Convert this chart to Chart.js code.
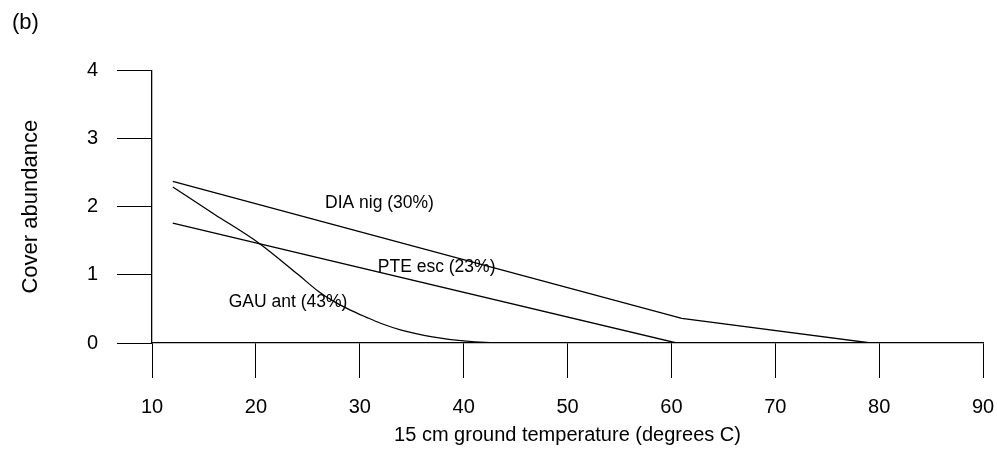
<!DOCTYPE html>
<html>
<head>
<meta charset="utf-8">
<script src="https://cdn.jsdelivr.net/npm/chart.js@4.4.1/dist/chart.umd.min.js"></script>
<style>
  html, body { margin: 0; padding: 0; background: #fff; }
  canvas { display: block; }
</style>
</head>
<body>
<canvas id="coverChart" width="997" height="449"></canvas>
<script>
// cover abundance response curves against 15 cm ground temperature
const xTicks = [10, 20, 30, 40, 50, 60, 70, 80, 90];
const yTicks = [0, 1, 2, 3, 4];

const diaTemp = [12, 61, 79.2, 90];
const diaCover = [2.37, 0.36, 0, 0];

const pteTemp = [12, 60.5, 90];
const pteCover = [1.76, 0, 0];

const gauTemp = [12, 16, 20.3, 24.1, 26, 27.5, 29, 30.6, 32, 34, 37, 40, 44, 90];
const gauCover = [2.29, 1.89, 1.465, 1.0, 0.76, 0.61, 0.49, 0.38, 0.29, 0.19, 0.09, 0.03, 0, 0];

const curveNames = ['DIA nig (30%)', 'PTE esc (23%)', 'GAU ant (43%)'];
const nameTemp = [31.9, 37.4, 23.1];
const nameCover = [2.05, 1.11, 0.6];

const FONT = "'Liberation Sans', Arial, sans-serif";

function toPoints(xs, ys) {
    return xs.map((x, i) => ({ x, y: ys[i] }));
}

function curve(xs, ys, smooth) {
    return {
        data: toPoints(xs, ys),
        showLine: true,
        borderColor: '#000',
        borderWidth: 1.3,
        pointRadius: 0,
        fill: false,
        tension: 0,
        cubicInterpolationMode: smooth ? 'monotone' : 'default'
    };
}

// writes the species names next to their curves
const curveLabels = {
    id: 'curveLabels',
    afterDatasetsDraw(chart) {
        const { ctx, scales } = chart;
        ctx.save();
        ctx.fillStyle = '#000';
        ctx.font = '17.5px ' + FONT;
        ctx.textAlign = 'center';
        ctx.textBaseline = 'middle';
        curveNames.forEach((name, i) => {
            ctx.fillText(name, scales.x.getPixelForValue(nameTemp[i]), scales.y.getPixelForValue(nameCover[i]));
        });
        ctx.restore();
    }
};

new Chart(document.getElementById('coverChart').getContext('2d'), {
    type: 'scatter',
    data: {
        datasets: [
            curve(diaTemp, diaCover, false),
            curve(pteTemp, pteCover, false),
            curve(gauTemp, gauCover, true)
        ]
    },
    options: {
        responsive: false,
        animation: false,
        devicePixelRatio: 1,
        layout: { padding: { left: 12, right: 0, top: 0, bottom: 0 } },
        plugins: {
            legend: { display: false },
            tooltip: { enabled: false },
            title: {
                display: true,
                text: '(b)',
                align: 'start',
                color: '#000',
                font: { family: FONT, size: 22, weight: 'normal' },
                padding: { top: 10, bottom: 34 }
            }
        },
        scales: {
            x: {
                type: 'linear',
                min: 10,
                max: 90,
                afterBuildTicks: axis => { axis.ticks = xTicks.map(v => ({ value: v })); },
                afterFit: axis => {
                    axis.height = 106;
                    // only leave room for half of the "90" label on the right
                    axis.paddingRight = 14;
                },
                grid: { drawOnChartArea: false, drawTicks: true, tickLength: 35, color: '#000', lineWidth: 1 },
                border: { display: true, color: '#000', width: 1.3 },
                ticks: { color: '#000', padding: 17, maxRotation: 0, font: { family: FONT, size: 20 } },
                title: {
                    display: true,
                    text: '15 cm ground temperature (degrees C)',
                    color: '#000',
                    font: { family: FONT, size: 20 },
                    padding: { top: 0, bottom: 2 }
                }
            },
            y: {
                type: 'linear',
                min: 0,
                max: 4,
                afterBuildTicks: axis => { axis.ticks = yTicks.map(v => ({ value: v })); },
                afterFit: axis => { axis.width = 140; },
                grid: { drawOnChartArea: false, drawTicks: true, tickLength: 35, color: '#000', lineWidth: 1 },
                border: { display: true, color: '#000', width: 1.3 },
                ticks: { color: '#000', padding: 19, font: { family: FONT, size: 20 } },
                title: {
                    display: true,
                    text: 'Cover abundance',
                    color: '#000',
                    font: { family: FONT, size: 22 },
                    padding: { top: 6, bottom: 0 }
                }
            }
        }
    },
    plugins: [curveLabels]
});
</script>
</body>
</html>
